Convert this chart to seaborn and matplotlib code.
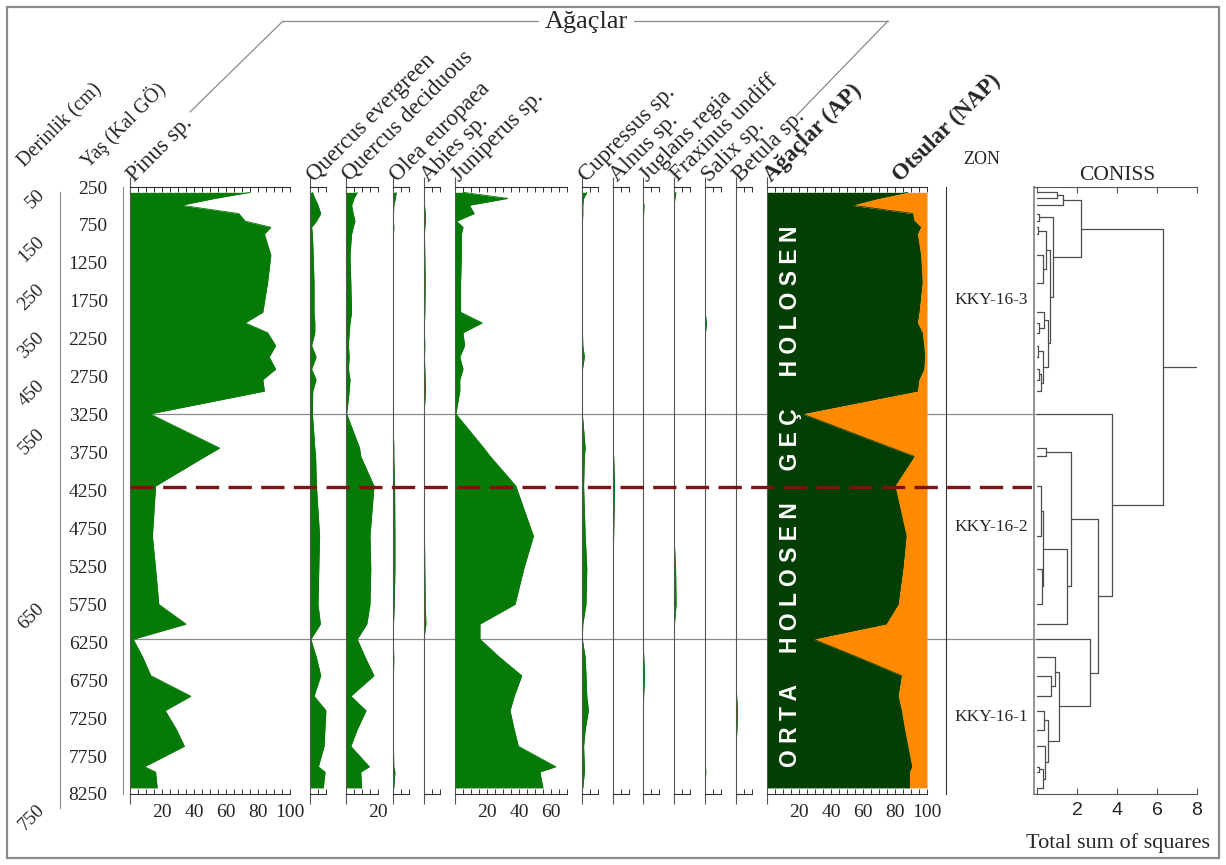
import matplotlib
matplotlib.use("Agg")
import matplotlib.pyplot as plt
from matplotlib.ticker import MultipleLocator, FixedLocator, FuncFormatter, NullLocator
from matplotlib.lines import Line2D
from matplotlib.patches import Rectangle
import seaborn as sns

sns.set_style("white")
plt.rcParams["font.family"] = ["Liberation Serif", "DejaVu Serif"]
plt.rcParams["axes.linewidth"] = 0.8

# ---------------------------------------------------------------- data
# sample ages (cal yr BP)
ages = [320, 400, 490, 600, 700, 780, 870, 1150, 1510, 1900, 2040, 2170, 2340, 2490, 2650, 2790, 2940,
        3240, 3690, 3800, 4190, 4850, 5280, 5750, 6010,
        6210, 6450, 6690, 6960, 7150, 7400, 7620, 7890, 7960, 8170]

# percentages
pinus = [75, 53, 32, 68, 72, 88, 84, 88, 86, 83, 72, 86, 91, 87, 91, 83, 84,
         12.5, 56, 47, 16, 14, 16, 18, 35,
         2, 8, 13, 38, 22, 29, 34, 9, 16, 17]
quercus_ever = [1.5, 3, 5, 6.7, 4, 1, 1.5, 2, 2.5, 2.5, 3, 3, 1, 3.8, 1, 3.8, 1.7,
                1.5, 3, 3.5, 4, 6, 5.5, 5, 6.5,
                0.5, 4, 6.7, 2.5, 10, 9.3, 8.8, 5.2, 9.4, 8.3]
quercus_dec = [7, 5, 3.5, 4.5, 5.6, 4.5, 3.5, 2.5, 3, 3.5, 2.5, 2, 1.5, 2, 1.5, 2.5, 2,
               0.4, 8.5, 9.2, 17.5, 15, 15.5, 15, 13,
               7, 12, 17.5, 3, 12.5, 7, 3, 14.6, 9.2, 9.8]
olea = [2, 1.5, 0.5, 0.3, 0.3, 0.5, 0.3, 0.3, 0.3, 0.3, 0.3, 0.3, 0.3, 0.3, 0.3, 0.3, 0.3,
        0, 0.5, 0.5, 1, 1.2, 1.2, 0.8, 0.3,
        0, 0.5, 0.3, 0.3, 0.3, 0.3, 0.3, 0.5, 1.2, 0.5]
abies = [0, 0, 0.3, 0.8, 1, 0.5, 0.3, 0.5, 0.8, 0.5, 0.3, 0.3, 0.5, 0.3, 0.5, 0.8, 1,
         0, 0.3, 0.3, 0.3, 0.3, 0.5, 0.8, 1.2,
         0, 0.3, 0.3, 0.3, 0.3, 0.3, 0.3, 0.3, 0.3, 0.3]
juniperus = [5, 33, 9, 12, 1, 5, 4, 4, 3.5, 3.5, 17, 5, 6, 3, 5, 3, 3,
             0.5, 18, 22, 38, 49, 43, 37.5, 15.6,
             15.6, 28, 41.7, 37, 34.4, 37, 39.6, 63, 53, 55]
cupressus = [3, 1, 0.5, 0.5, 0.3, 0.3, 0.3, 0.3, 0.3, 0.3, 0.3, 0.3, 0.5, 1.5, 0.3, 0.3, 0.3,
             0.2, 2, 1.5, 1, 2, 3, 2.5, 0.5,
             0.2, 2, 2.5, 3, 4, 2, 1, 1.5, 1.5, 0.5]
alnus = [0.3, 0, 0, 0, 0, 0, 0, 0, 0, 0, 0, 0, 0, 0, 0, 0, 0,
         0, 0, 0.4, 1, 0.4, 0, 0, 0,
         0, 0, 0, 0, 0, 0, 0, 0, 0, 0]
juglans = [0, 0, 0.6, 0.4, 0, 0, 0, 0, 0, 0, 0, 0, 0, 0, 0, 0, 0,
           0, 0, 0, 0, 0, 0, 0, 0,
           0, 0.5, 1, 0.4, 0, 0, 0, 0, 0, 0]
fraxinus = [1.2, 0.6, 0, 0, 0, 0, 0, 0, 0, 0, 0, 0, 0, 0, 0, 0, 0,
            0, 0, 0, 0, 0, 1, 1.3, 0.3,
            0, 0, 0, 0, 0, 0, 0, 0, 0, 0]
salix = [0, 0, 0, 0, 0, 0, 0, 0, 0, 0, 1, 0.3, 0, 0, 0, 0, 0,
         0, 0, 0, 0, 0, 0, 0, 0,
         0, 0, 0, 0, 0, 0, 0, 0.3, 0.5, 0]
betula = [0, 0, 0, 0, 0, 0, 0, 0, 0, 0, 0, 0, 0, 0, 0, 0, 0,
          0, 0, 0, 0, 0, 0, 0, 0,
          0, 0, 0, 0.4, 1, 0.6, 0, 0, 0, 0]
# arboreal pollen sum (%); NAP is the remainder to 100
ap = [88, 70, 53, 91, 92, 96, 94, 96, 97, 95, 94, 97, 98, 98.5, 98, 95, 94,
      22, 78, 92, 80, 87, 85, 82, 74.5,
      29, 57, 84, 82, 84, 86, 88, 90.5, 89, 89]

taxa_names = ["Pinus sp.", "Quercus evergreen", "Quercus deciduous", "Olea europaea",
              "Abies sp.", "Juniperus sp.", "Cupressus sp.", "Alnus sp.", "Juglans regia",
              "Fraxinus undiff", "Salix sp.", "Betula sp."]
taxa_values = [pinus, quercus_ever, quercus_dec, olea, abies, juniperus, cupressus,
               alnus, juglans, fraxinus, salix, betula]
taxa_scale_max = [100, 10, 20, 10, 10, 70, 10, 10, 10, 10, 10, 10]

zone_bounds = [3240, 6210]
zone_names = ["KKY-16-3", "KKY-16-2", "KKY-16-1"]
event_age = 4200
period_words = ["ORTA", "HOLOSEN", "GEÇ", "HOLOSEN"]

# age-depth model used for the depth scale
depth_cm = [50, 100, 150, 200, 250, 300, 350, 400, 450, 500, 550, 600, 650, 700, 750]
depth_age = [316, 633, 936, 1253, 1567, 1886, 2202, 2519, 2835, 3152, 3468, 3785, 5777, 7703, 8428]

# CONISS merges: (left, right, total sum of squares); ints are sample indices
coniss_tree = (
    (((0, 1, 1.0), 2, 1.3),
     ((3, 4, 0.1),
      (((5, 6, 0.05), (7, 8, 0.3), 0.45),
       ((9, (10, 11, 0.1), 0.35), ((12, 13, 0.05), ((14, 15, 0.1), 16, 0.2), 0.3), 0.55),
       0.65),
      0.8),
     2.2),
    (17,
     ((((18, 19, 0.45), (((20, 21, 0.2), (22, 23, 0.25), 0.3), 24, 1.5), 1.7)),
      (25, ((26, (27, 28, 0.7), 0.9), ((29, 30, 0.35), (31, ((32, 33, 0.1), 34, 0.3), 0.4), 0.55), 1.1), 2.65),
      3.05),
     3.75),
    6.3)

# ---------------------------------------------------------------- layout
W, H = 1226, 865
Y_TOP, Y_BOT = 187, 794
AGE_MIN, AGE_MAX = 250, 8250
PX_PER_PCT = 1.6
panel_left = [130, 310, 346, 393, 424, 455, 582, 613, 643, 674, 705, 736]
AP_LEFT = 767
GREEN = "#067a06"
DARK = "#033f03"
ORANGE = "#ff8a00"
GRID = "#8c8c8c"
LABEL_SIZE = 16.5

fig = plt.figure(figsize=(W / 100, H / 100), dpi=100)


def age_to_py(a):
    return Y_TOP + (a - AGE_MIN) / (AGE_MAX - AGE_MIN) * (Y_BOT - Y_TOP)


def add_px_axes(x0, y0, x1, y1, **kw):
    return fig.add_axes([x0 / W, 1 - y1 / H, (x1 - x0) / W, (y1 - y0) / H], **kw)


def column_label(x, y, text, size=LABEL_SIZE, **kw):
    fig.text(x / W, 1 - y / H, text, rotation=45, rotation_mode="anchor",
             ha="left", va="baseline", fontsize=size, **kw)


def style_panel(ax, xmax):
    ax.set_xlim(0, xmax)
    ax.set_ylim(AGE_MAX, AGE_MIN)
    ax.patch.set_alpha(0)
    ax.set_xlabel("")
    ax.set_ylabel("")
    ax.spines["right"].set_visible(False)
    ax.spines["left"].set_color("#555555")
    ax.spines["top"].set_color("#333333")
    ax.spines["bottom"].set_color("#333333")
    for s in ("left", "top", "bottom"):
        ax.spines[s].set_linewidth(0.8)
    ax.yaxis.set_major_locator(NullLocator())
    ax.xaxis.set_major_locator(FixedLocator([0]))
    ax.xaxis.set_minor_locator(MultipleLocator(5))
    ax.xaxis.set_major_formatter(FuncFormatter(lambda v, p: ""))
    ax.xaxis.set_minor_formatter(
        FuncFormatter(lambda v, p: f"{v:.0f}" if v > 0 and abs(v % 20) < 1e-6 else ""))
    ax.tick_params(axis="x", which="major", direction="out", length=7, width=0.8,
                   top=True, bottom=True, color="#555555")
    ax.tick_params(axis="x", which="minor", direction="in", length=3.5, width=0.7,
                   top=True, bottom=True, labelbottom=True, labeltop=False,
                   labelsize=14, pad=7, color="#333333")


# background lines (zone boundaries) behind the curves
bg = add_px_axes(130, Y_TOP, 1040, Y_BOT, zorder=0)
bg.set_xlim(0, 1)
bg.set_ylim(AGE_MAX, AGE_MIN)
bg.axis("off")
for zb in zone_bounds:
    bg.axhline(zb, color=GRID, lw=0.9)

# taxa curves
for name, vals, left, vmax in zip(taxa_names, taxa_values, panel_left, taxa_scale_max):
    ax = add_px_axes(left, Y_TOP, left + vmax * PX_PER_PCT, Y_BOT, zorder=2)
    ax.fill_betweenx(ages, 0, vals, color=GREEN, lw=0)
    sns.lineplot(x=vals, y=ages, orient="y", sort=False, estimator=None, ax=ax,
                 color=GREEN, lw=0.6)
    style_panel(ax, vmax)
    column_label(left + 4, 182, name)

# AP / NAP panel
ax_ap = add_px_axes(AP_LEFT, Y_TOP, AP_LEFT + 100 * PX_PER_PCT, Y_BOT, zorder=2)
ax_ap.fill_betweenx(ages, 0, ap, color=DARK, lw=0)
ax_ap.fill_betweenx(ages, ap, 100, color=ORANGE, lw=0)
sns.lineplot(x=ap, y=ages, orient="y", sort=False, estimator=None, ax=ax_ap,
             color=DARK, lw=0.6)
style_panel(ax_ap, 100)
period_text = "     ".join(" ".join(word) for word in period_words)
ax_ap.text(14.5, 4330, period_text, rotation=90,
           ha="center", va="center", color="white", fontsize=16.5, fontweight="bold",
           family=["Liberation Sans", "DejaVu Sans"])
column_label(AP_LEFT + 4, 182, "Ağaçlar (AP)", fontweight="bold")
column_label(900, 182, "Otsular (NAP)", fontweight="bold")

# age axis
ax_age = add_px_axes(123, Y_TOP, 124, Y_BOT, zorder=2)
ax_age.set_ylim(AGE_MAX, AGE_MIN)
ax_age.patch.set_alpha(0)
for s in ("right", "top", "bottom"):
    ax_age.spines[s].set_visible(False)
ax_age.spines["left"].set_color("#8a8a8a")
ax_age.xaxis.set_major_locator(NullLocator())
ax_age.yaxis.set_major_locator(MultipleLocator(500, offset=250))
ax_age.yaxis.set_minor_locator(MultipleLocator(250))
ax_age.tick_params(axis="y", which="major", length=9, width=0.8, color="#555555",
                   labelsize=14, pad=2)
ax_age.tick_params(axis="y", which="minor", length=4.5, width=0.7, color="#777777")
column_label(88, 168, "Yaş (Kal GÖ)", size=14.5)

# depth axis from the age-depth model
d_top, d_bot = depth_age[0], depth_age[-1]
ax_d = add_px_axes(60, age_to_py(d_top), 61, age_to_py(d_bot), zorder=2)
ax_d.set_ylim(d_bot, d_top)
ax_d.patch.set_alpha(0)
for s in ("right", "top", "bottom"):
    ax_d.spines[s].set_visible(False)
ax_d.spines["left"].set_color("#8a8a8a")
ax_d.xaxis.set_major_locator(NullLocator())
major_idx = [i for i, d in enumerate(depth_cm) if d % 100 == 50]
minor_idx = [i for i, d in enumerate(depth_cm) if d % 100 == 0]
ax_d.yaxis.set_major_locator(FixedLocator([depth_age[i] for i in major_idx]))
ax_d.set_yticklabels([str(depth_cm[i]) for i in major_idx], rotation=45,
                     rotation_mode="anchor", ha="right", va="center")
ax_d.yaxis.set_minor_locator(FixedLocator([depth_age[i] for i in minor_idx]))
ax_d.tick_params(axis="y", which="major", length=10, width=0.8, color="#555555",
                 labelsize=14, pad=3)
ax_d.tick_params(axis="y", which="minor", length=5, width=0.7, color="#777777")
column_label(25, 168, "Derinlik (cm)", size=14.5)

# zone column
ax_z = add_px_axes(946, Y_TOP, 1034, Y_BOT, zorder=2)
ax_z.set_ylim(AGE_MAX, AGE_MIN)
ax_z.set_xlim(0, 1)
ax_z.patch.set_alpha(0)
for s in ("right", "top", "bottom"):
    ax_z.spines[s].set_visible(False)
ax_z.spines["left"].set_color("#333333")
ax_z.set_xticks([])
ax_z.set_yticks([])
edges = [AGE_MIN] + zone_bounds + [AGE_MAX]
for nm, a0, a1 in zip(zone_names, edges[:-1], edges[1:]):
    ax_z.text(0.1, (a0 + a1) / 2, nm, ha="left", va="center", fontsize=12.5)
fig.text(982 / W, 1 - 160 / H, "ZON", ha="center", va="center", fontsize=13)

# CONISS dendrogram
ax_c = add_px_axes(1034, Y_TOP, 1197, Y_BOT, zorder=2)
ax_c.set_xlim(-0.15, 8)
ax_c.set_ylim(AGE_MAX, AGE_MIN)
ax_c.patch.set_alpha(0)
ax_c.spines["right"].set_visible(False)
ax_c.spines["left"].set_color("#8a8a8a")
ax_c.spines["left"].set_linewidth(1.3)
ax_c.spines["top"].set_color("#555555")
ax_c.spines["bottom"].set_color("#555555")
ax_c.yaxis.set_major_locator(NullLocator())
ax_c.xaxis.set_major_locator(FixedLocator([0, 2, 4, 6, 8]))
ax_c.xaxis.set_major_formatter(FuncFormatter(lambda v, p: "" if v == 0 else f"{v:.0f}"))
ax_c.tick_params(axis="x", direction="in", length=4, width=0.8, top=True, bottom=True,
                 labelsize=14, pad=6, color="#555555")
for lab in ax_c.get_xticklabels():
    lab.set_family(["Liberation Sans", "DejaVu Sans"])

DENDRO = "#4d4d4d"


def draw_node(node):
    if isinstance(node, int):
        return ages[node], 0.0
    left, right, h = node
    y1, h1 = draw_node(left)
    y2, h2 = draw_node(right)
    ax_c.plot([h1, h], [y1, y1], color=DENDRO, lw=0.9)
    ax_c.plot([h2, h], [y2, y2], color=DENDRO, lw=0.9)
    ax_c.plot([h, h], [y1, y2], color=DENDRO, lw=0.9)
    return (y1 + y2) / 2, h


root_y, root_h = draw_node(coniss_tree)
ax_c.plot([root_h, 8], [root_y, root_y], color=DENDRO, lw=0.9)
fig.text(1117 / W, 1 - 175 / H, "CONISS", ha="center", va="center", fontsize=15.5)
fig.text(1118 / W, 1 - 843 / H, "Total sum of squares", ha="center", va="center",
         fontsize=16)

# 4.2 ka boundary drawn over everything
fg = add_px_axes(130, Y_TOP, 1032, Y_BOT, zorder=10)
fg.set_xlim(0, 1)
fg.set_ylim(AGE_MAX, AGE_MIN)
fg.axis("off")
fg.axhline(event_age, color="#7f1212", lw=2.4, dashes=(7, 2.8))

# group header for the tree taxa
fig.text(586 / W, 1 - 22 / H, "Ağaçlar", ha="center", va="center", fontsize=19)
for (x0, y0), (x1, y1) in [((190, 112), (283, 21)), ((283, 21), (538, 21)),
                           ((634, 21), (888, 21)), ((888, 21), (796, 116))]:
    fig.add_artist(Line2D([x0 / W, x1 / W], [1 - y0 / H, 1 - y1 / H],
                          transform=fig.transFigure, color="#8a8a8a", lw=0.9))

# outer frame
fig.add_artist(Rectangle((7 / W, 7 / H), 1212 / W, 851 / H, transform=fig.transFigure,
                         fill=False, ec="#8a8a8a", lw=1.6))

fig.savefig("out.png", dpi=100)
